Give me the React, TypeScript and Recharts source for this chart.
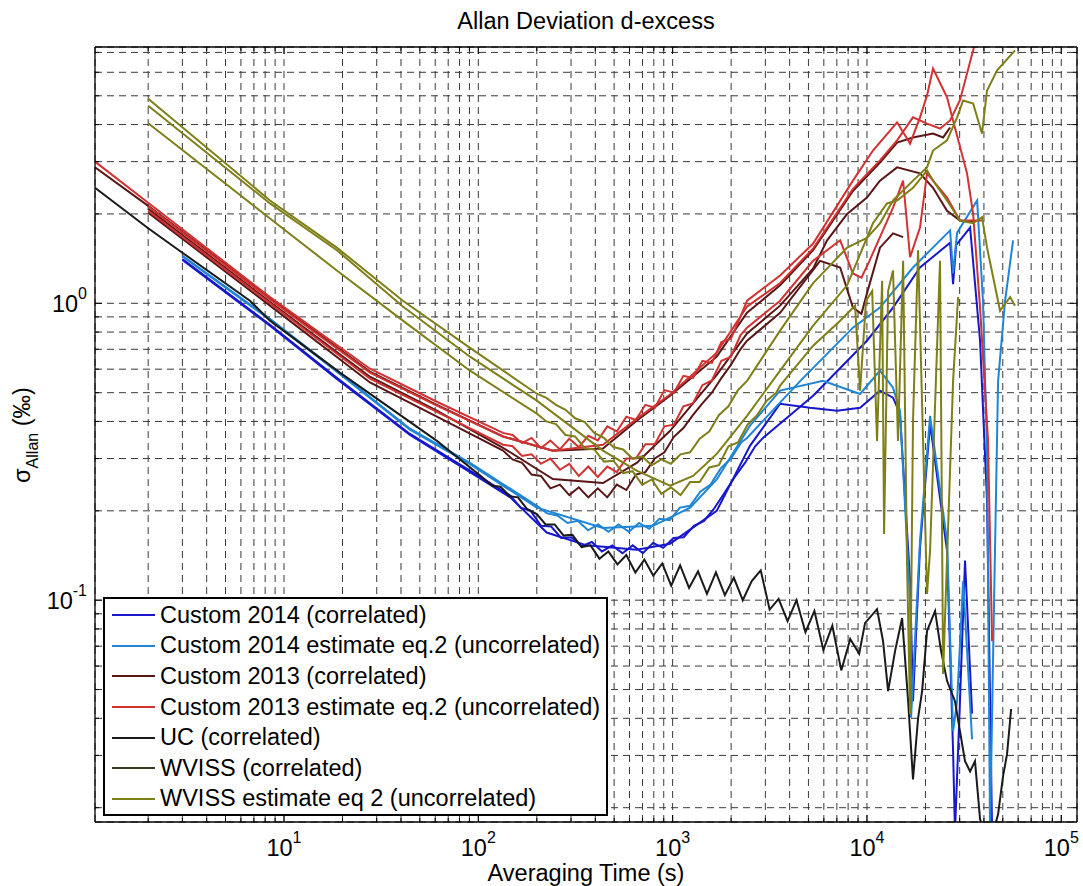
import React from "react";
import { LineChart, Line, XAxis, YAxis, CartesianGrid, Legend } from "recharts";

type Pt = [number, number];

// [averaging time (s), Allan deviation (permil)]
const C14_CORR_A: Pt[] = [
  [3, 1.41], [8.47, 0.847], [18.7, 0.561], [44.5, 0.363], [90.6, 0.273], [146, 0.225], [165, 0.205],
  [186, 0.2], [210, 0.178], [237, 0.177], [267, 0.162], [301, 0.163], [340, 0.152], [384, 0.157],
  [433, 0.146], [489, 0.153], [552, 0.144], [623, 0.153], [703, 0.144], [793, 0.156], [895, 0.15],
  [1010, 0.162], [1140, 0.163], [1287, 0.178], [1452, 0.185], [1639, 0.204], [1850, 0.23], [2088, 0.26],
  [2356, 0.29], [2660, 0.33], [2917, 0.352], [5285, 0.488], [10000, 0.748], [13620, 0.967], [18750, 1.32],
  [26790, 1.6], [27750, 1.16], [28770, 1.57], [33950, 1.8], [38200, 0.748], [41500, 0.216], [44050, 0.0166],
];
const C14_CORR_B: Pt[] = [
  [3, 1.4], [8.47, 0.84], [18.7, 0.556], [44.5, 0.36], [90.6, 0.27], [146, 0.222], [225, 0.169],
  [361, 0.153], [653, 0.148], [970, 0.155], [1687, 0.2], [2500, 0.331], [3573, 0.459], [5093, 0.445],
  [7015, 0.435], [9220, 0.445], [11670, 0.508], [13620, 0.481], [14790, 0.425], [16670, 0.116],
  [17260, 0.0457], [18750, 0.15], [21130, 0.393], [25830, 0.147], [27750, 0.031], [28380, 0.0166],
  [30110, 0.0457], [31970, 0.136], [34750, 0.0415],
];
const C14_EST_A: Pt[] = [
  [3, 1.445], [8.47, 0.887], [18.7, 0.593], [44.5, 0.378], [90.6, 0.29], [200, 0.208], [226, 0.196],
  [255, 0.193], [288, 0.182], [325, 0.185], [367, 0.172], [414, 0.18], [467, 0.17], [527, 0.18],
  [595, 0.17], [672, 0.182], [758, 0.174], [856, 0.188], [966, 0.186], [1090, 0.205], [1230, 0.208],
  [1388, 0.232], [1567, 0.245], [1769, 0.278], [1996, 0.3], [2253, 0.34], [2415, 0.352], [4530, 0.547],
  [8470, 0.828], [11670, 0.967], [17260, 1.32], [26790, 1.76], [27750, 1.26], [29110, 1.73], [36900, 2.22],
  [39540, 1.02], [41500, 0.318], [43000, 0.0166], [45100, 0.0993], [47300, 0.548], [51400, 1.02],
  [56500, 1.63],
];
const C14_EST_B: Pt[] = [
  [3, 1.44], [8.47, 0.88], [18.7, 0.588], [44.5, 0.375], [90.6, 0.287], [200, 0.205], [438, 0.175],
  [794, 0.178], [1230, 0.205], [1687, 0.255], [2500, 0.387], [3573, 0.508], [5943, 0.548], [9220, 0.495],
  [11670, 0.593], [13620, 0.52], [14790, 0.435], [16670, 0.0993], [16870, 0.0402], [18750, 0.158],
  [21130, 0.418], [25830, 0.158], [27750, 0.0362], [29110, 0.0457], [31260, 0.116], [34750, 0.034],
];

const C13_CORR_1: Pt[] = [
  [1.065, 2.87], [2, 2.13], [8.47, 1.04], [27.7, 0.589], [61.2, 0.455], [134, 0.356], [242, 0.319],
  [438, 0.324], [653, 0.402], [970, 0.488], [1687, 0.661], [2415, 0.929], [3573, 1.15], [5285, 1.51],
  [8470, 2.39], [11670, 2.98], [14290, 3.48], [17260, 3.62], [21880, 3.73], [24660, 3.62], [26790, 3.91],
];
const C13_CORR_2: Pt[] = [
  [2, 2.02], [8.47, 0.982], [27.7, 0.541], [61.2, 0.415], [134, 0.319], [150, 0.298], [168, 0.29],
  [188, 0.265], [210, 0.262], [235, 0.238], [263, 0.245], [294, 0.226], [329, 0.24], [368, 0.222],
  [412, 0.238], [461, 0.222], [516, 0.245], [578, 0.235], [647, 0.265], [724, 0.27], [810, 0.3],
  [907, 0.315], [1015, 0.355], [1136, 0.38], [1271, 0.42], [1423, 0.46], [1592, 0.5], [1782, 0.56],
  [1994, 0.62], [2232, 0.7], [2415, 0.748], [3573, 0.929], [5740, 1.39], [7280, 1.32], [8470, 0.967],
  [9370, 0.922], [10000, 1.08], [11670, 1.54], [13620, 1.72], [15350, 1.67],
];
const C13_CORR_3: Pt[] = [
  [2, 2.08], [8.47, 1.01], [27.7, 0.566], [61.2, 0.435], [134, 0.326], [242, 0.256], [438, 0.248],
  [653, 0.29], [970, 0.372], [1687, 0.574], [2415, 0.791], [3573, 0.982], [5285, 1.31], [6237, 1.63],
  [7906, 2.0], [10000, 2.27], [11670, 2.59], [14290, 2.87], [18750, 2.74], [21880, 2.45], [25830, 2.05],
  [30110, 1.9], [35980, 1.87],
];

const C13_EST_1: Pt[] = [
  [1.065, 3.0], [2, 2.18], [8.47, 1.05], [27.7, 0.602], [61.2, 0.466], [134, 0.366], [150, 0.36],
  [168, 0.338], [188, 0.352], [210, 0.325], [235, 0.345], [263, 0.322], [294, 0.35], [329, 0.328],
  [368, 0.358], [412, 0.345], [461, 0.385], [516, 0.37], [578, 0.415], [647, 0.405], [724, 0.455],
  [810, 0.445], [907, 0.51], [1015, 0.5], [1136, 0.57], [1271, 0.56], [1423, 0.64], [1592, 0.63],
  [1782, 0.74], [1994, 0.76], [2232, 0.9], [2415, 1.02], [3573, 1.24], [5285, 1.59], [8470, 2.59],
  [10740, 3.27], [14290, 4.07], [16670, 3.45], [18750, 4.23], [20380, 5.01], [21880, 6.18], [25830, 4.94],
  [27750, 4.13], [32740, 2.74], [35190, 2.0], [38200, 0.967], [42000, 0.344], [44050, 0.0728],
];
const C13_EST_2: Pt[] = [
  [2, 2.12], [8.47, 1.03], [27.7, 0.584], [61.2, 0.452], [134, 0.356], [242, 0.319], [438, 0.334],
  [653, 0.408], [970, 0.493], [1687, 0.682], [2415, 0.975], [3573, 1.17], [5285, 1.53], [8470, 2.43],
  [11670, 3.03], [14290, 3.54], [17260, 4.23], [20380, 4.03], [23770, 3.88], [26790, 4.13], [30110, 4.83],
  [35980, 7.51],
];
const C13_EST_3: Pt[] = [
  [2, 2.05], [8.47, 1.0], [27.7, 0.557], [61.2, 0.431], [134, 0.334], [150, 0.33], [168, 0.306],
  [188, 0.31], [210, 0.288], [235, 0.3], [263, 0.275], [294, 0.288], [329, 0.262], [368, 0.282],
  [412, 0.26], [461, 0.282], [516, 0.27], [578, 0.3], [647, 0.3], [724, 0.335], [810, 0.335], [907, 0.385],
  [1015, 0.39], [1136, 0.45], [1271, 0.46], [1423, 0.53], [1592, 0.55], [1782, 0.64], [1994, 0.66],
  [2232, 0.78], [2415, 0.828], [3573, 1.02], [5285, 1.39], [7280, 1.63], [8470, 1.26], [9370, 1.22],
  [10300, 1.39], [11670, 1.67], [13620, 2.1], [15350, 2.59], [16670, 1.43], [18750, 1.8], [20380, 2.74],
  [21880, 2.59], [25830, 2.27], [30110, 1.9], [39540, 1.9],
];

const UC_CORR: Pt[] = [
  [1.065, 2.45], [2, 1.79], [3, 1.48], [6.68, 1.02], [8.47, 0.874], [19.4, 0.584], [61.2, 0.344],
  [106, 0.258], [118, 0.243], [130, 0.241], [145, 0.224], [160, 0.222], [178, 0.203], [200, 0.195],
  [222, 0.18], [247, 0.18], [275, 0.165], [305, 0.166], [340, 0.151], [378, 0.153], [420, 0.138],
  [467, 0.146], [520, 0.132], [578, 0.142], [643, 0.124], [715, 0.137], [795, 0.121], [884, 0.133],
  [983, 0.112], [1093, 0.131], [1215, 0.11], [1351, 0.125], [1502, 0.105], [1670, 0.124], [1857, 0.104],
  [2065, 0.119], [2296, 0.1], [2553, 0.116], [2839, 0.126], [3157, 0.093], [3510, 0.101], [3903, 0.085],
  [4340, 0.1], [4826, 0.078], [5366, 0.092], [5967, 0.068], [6635, 0.082], [7378, 0.058], [8204, 0.074],
  [9122, 0.066], [9775, 0.0837], [11270, 0.0933], [12100, 0.0729], [12850, 0.0494], [13960, 0.0675],
  [15170, 0.0871], [16290, 0.0457], [17260, 0.0249], [18330, 0.0401], [19230, 0.0494], [20380, 0.0787],
  [22420, 0.092], [24060, 0.0675], [25830, 0.0535], [28380, 0.0457], [30110, 0.0362], [31970, 0.0287],
  [33950, 0.0265], [35980, 0.0287], [38200, 0.0183], [40550, 0.016], [44050, 0.016], [47300, 0.019],
  [50150, 0.0255], [52600, 0.0303], [55200, 0.043],
];

// no separate WVISS correlated curve is visible in the figure
const WVISS_CORR: Pt[] = [];

const WVISS_EST_1: Pt[] = [
  [2, 4.89], [8.47, 2.22], [18.7, 1.54], [40.9, 1.02], [90.6, 0.708], [200, 0.496], [224, 0.48],
  [251, 0.455], [281, 0.438], [315, 0.41], [353, 0.398], [395, 0.366], [443, 0.352], [496, 0.328],
  [556, 0.322], [622, 0.3], [697, 0.305], [781, 0.285], [875, 0.298], [980, 0.288], [1098, 0.31],
  [1230, 0.315], [1378, 0.35], [1543, 0.37], [1729, 0.42], [1937, 0.45], [2169, 0.51], [2415, 0.548],
  [3573, 0.809], [5285, 1.17], [7906, 1.54], [10000, 1.66], [11670, 1.86], [13620, 2.22], [17260, 2.59],
  [20380, 2.87], [21880, 3.27], [25830, 3.54], [29110, 4.23], [31260, 4.82], [35190, 4.71], [39080, 3.73],
  [41500, 5.21], [46780, 6.09], [57800, 7.11],
];
const WVISS_EST_2: Pt[] = [
  [2, 4.63], [8.47, 2.17], [18.7, 1.51], [40.9, 0.975], [90.6, 0.661], [200, 0.47], [438, 0.319],
  [653, 0.273], [970, 0.243], [1274, 0.262], [1687, 0.311], [2415, 0.418], [3573, 0.593], [5285, 0.841],
  [7906, 1.15], [10740, 1.86], [12680, 2.17], [14290, 2.22], [17260, 2.45], [20380, 2.8], [21880, 2.59],
  [25830, 2.22], [30110, 1.9], [35190, 1.86], [39080, 1.95], [41500, 1.54], [48420, 0.944], [54540, 1.05],
  [57800, 0.982],
];
const WVISS_EST_3: Pt[] = [
  [2, 4.04], [8.47, 1.93], [18.7, 1.29], [40.9, 0.874], [90.6, 0.593], [200, 0.425], [224, 0.4],
  [251, 0.392], [281, 0.36], [315, 0.356], [353, 0.325], [395, 0.322], [443, 0.293], [496, 0.295],
  [556, 0.268], [622, 0.272], [697, 0.245], [781, 0.255], [875, 0.228], [980, 0.24], [1098, 0.226],
  [1230, 0.25], [1378, 0.25], [1543, 0.28], [1729, 0.285], [1937, 0.33], [2169, 0.34], [2430, 0.39],
  [2722, 0.42], [3049, 0.47], [3415, 0.5], [3573, 0.528], [5285, 0.72], [7280, 0.874], [8690, 0.982],
  [9220, 0.508], [9890, 1.02], [10640, 1.1], [11270, 0.344], [11970, 1.19], [12250, 0.167], [12850, 1.1],
  [13620, 1.29], [14450, 0.344], [15350, 1.39], [16070, 0.136], [16670, 0.0414], [17260, 0.402],
  [18330, 1.51], [20380, 0.105], [21130, 0.147], [23770, 1.39], [24660, 0.0564], [27750, 0.547],
  [29450, 1.05],
];

const LEGEND_LABELS = [
  "Custom 2014 (correlated)",
  "Custom 2014 estimate eq.2 (uncorrelated)",
  "Custom 2013 (correlated)",
  "Custom 2013 estimate eq.2 (uncorrelated)",
  "UC (correlated)",
  "WVISS (correlated)",
  "WVISS estimate eq 2 (uncorrelated)",
];

const X_DECADES = [0, 1, 2, 3, 4, 5];
const Y_DECADES = [-2, -1, 0];
const MANTISSAS = [1, 2, 3, 4, 5, 6, 7, 8, 9];
const X_DOMAIN: [number, number] = [1.065, 120500];
const Y_DOMAIN: [number, number] = [0.0179, 7.3];

const W = 1083;
const H = 886;
// axes are 1px thick boxes, so plot area = 95..1077 x 47..822
const MARGIN = { top: 46, right: 5, bottom: 63, left: 94 };
const FONT = '"Liberation Sans", Arial, Helvetica, sans-serif';
const FS = 23.5;

const logTicks = (decades: number[], [lo, hi]: [number, number]) =>
  decades
    .flatMap((d) => MANTISSAS.map((m) => Number((m * Math.pow(10, d)).toPrecision(6))))
    .filter((v) => v >= lo && v <= hi);

const X_TICKS = logTicks(X_DECADES, X_DOMAIN);
const Y_TICKS = logTicks(Y_DECADES, Y_DOMAIN);

const isMajor = (v: number) => Math.abs(Math.log10(v) - Math.round(Math.log10(v))) < 1e-9;
const toRows = (pts: Pt[]) => pts.map(([t, s]) => ({ t, s }));

const Pow10 = ({ x, y, e, anchor }: { x: number; y: number; e: number; anchor: "middle" | "end" }) => (
  <text x={x} y={y} textAnchor={anchor} fontFamily={FONT} fontSize={FS} fill="#000">
    10<tspan dy={-13} fontSize={16}>{e}</tspan>
  </text>
);

const BottomTick = ({ x, y, payload }: any) => {
  const major = isMajor(payload.value);
  return (
    <g>
      <line x1={x} x2={x} y1={y} y2={y - (major ? 7 : 4)} stroke="#000" />
      {major && <Pow10 x={x} y={y + 34} e={Math.round(Math.log10(payload.value))} anchor="middle" />}
    </g>
  );
};
const TopTick = ({ x, y, payload }: any) => (
  <line x1={x} x2={x} y1={y} y2={y + (isMajor(payload.value) ? 7 : 4)} stroke="#000" />
);
const LeftTick = ({ x, y, payload }: any) => {
  const major = isMajor(payload.value);
  return (
    <g>
      <line x1={x} x2={x + (major ? 7 : 4)} y1={y} y2={y} stroke="#000" />
      {major && <Pow10 x={x - 8} y={y + 9} e={Math.round(Math.log10(payload.value))} anchor="end" />}
    </g>
  );
};
const RightTick = ({ x, y, payload }: any) => (
  <line x1={x} x2={x - (isMajor(payload.value) ? 7 : 4)} y1={y} y2={y} stroke="#000" />
);

const LegendBox = (props: any) => {
  const byLabel = new Map<string, any>();
  (props.payload || []).forEach((it: any) => {
    if (LEGEND_LABELS.includes(it.value) && !byLabel.has(it.value)) byLabel.set(it.value, it);
  });
  const items = LEGEND_LABELS.filter((l) => byLabel.has(l)).map((l) => byLabel.get(l));
  return (
    <div
      style={{
        boxSizing: "border-box",
        width: 505,
        height: 219,
        border: "2px solid #000",
        background: "#fff",
        paddingTop: 1,
        fontFamily: FONT,
        fontSize: FS,
        color: "#000",
      }}
    >
      {items.map((it: any) => (
        <div key={it.value} style={{ display: "flex", alignItems: "center", height: 30.6, whiteSpace: "nowrap" }}>
          <svg width={55} height={10} style={{ flex: "none" }}>
            <line x1={7} x2={50} y1={5} y2={5} stroke={it.color} strokeWidth={2} />
          </svg>
          <span>{it.value}</span>
        </div>
      ))}
    </div>
  );
};

const BLUE = "#1717cc";
const LIGHT_BLUE = "#1f85d6";
const DARK_RED = "#5a1616";
const RED = "#d23232";
const BLACK = "#1a1a1a";
const DARK_OLIVE = "#3b3b22";
const OLIVE = "#7f7f19";

const SERIES: { data: Pt[]; color: string; name?: string }[] = [
  { data: C14_CORR_A, color: BLUE, name: LEGEND_LABELS[0] },
  { data: C14_CORR_B, color: BLUE },
  { data: C14_EST_A, color: LIGHT_BLUE, name: LEGEND_LABELS[1] },
  { data: C14_EST_B, color: LIGHT_BLUE },
  { data: C13_CORR_1, color: DARK_RED, name: LEGEND_LABELS[2] },
  { data: C13_CORR_2, color: DARK_RED },
  { data: C13_CORR_3, color: DARK_RED },
  { data: C13_EST_1, color: RED, name: LEGEND_LABELS[3] },
  { data: C13_EST_2, color: RED },
  { data: C13_EST_3, color: RED },
  { data: UC_CORR, color: BLACK, name: LEGEND_LABELS[4] },
  { data: WVISS_CORR, color: DARK_OLIVE, name: LEGEND_LABELS[5] },
  { data: WVISS_EST_1, color: OLIVE, name: LEGEND_LABELS[6] },
  { data: WVISS_EST_2, color: OLIVE },
  { data: WVISS_EST_3, color: OLIVE },
];

export default function App() {
  const axisLine = { stroke: "#000", strokeWidth: 1.3 };
  const common = {
    type: "number" as const,
    scale: "log" as const,
    allowDataOverflow: true,
    interval: 0 as const,
    tickLine: false,
    tickSize: 0,
    tickMargin: 0,
    axisLine,
  };
  return (
    <div style={{ position: "absolute", left: 0, top: 0, width: W, height: H, background: "#fff" }}>
      <LineChart width={W} height={H} margin={MARGIN}>
        <CartesianGrid stroke="#3a3a3a" strokeDasharray="7 5" strokeWidth={1} />
        <XAxis {...common} dataKey="t" domain={X_DOMAIN} ticks={X_TICKS} tick={BottomTick} height={1} />
        <XAxis
          {...common}
          xAxisId="top"
          orientation="top"
          dataKey="t"
          domain={X_DOMAIN}
          ticks={X_TICKS}
          tick={TopTick}
          height={1}
        />
        <YAxis {...common} domain={Y_DOMAIN} ticks={Y_TICKS} tick={LeftTick} width={1} />
        <YAxis
          {...common}
          yAxisId="right"
          orientation="right"
          domain={Y_DOMAIN}
          ticks={Y_TICKS}
          tick={RightTick}
          width={1}
        />
        <Legend
          layout="vertical"
          align="center"
          verticalAlign="middle"
          wrapperStyle={{ left: 103, top: 597, width: 505, height: 219 }}
          content={LegendBox}
        />
        {SERIES.map((s, i) => (
          <Line
            key={i}
            data={toRows(s.data)}
            dataKey="s"
            name={s.name ?? `hidden-${i}`}
            legendType={s.name ? "line" : "none"}
            type="linear"
            stroke={s.color}
            strokeWidth={2}
            dot={false}
            activeDot={false}
            isAnimationActive={false}
          />
        ))}
      </LineChart>
      <svg
        width={W}
        height={H}
        style={{ position: "absolute", left: 0, top: 0, pointerEvents: "none" }}
        fontFamily={FONT}
        fontSize={FS}
        fill="#000"
      >
        <text x={586} y={29} textAnchor="middle">Allan Deviation d-excess</text>
        <text x={586} y={881} textAnchor="middle">Averaging Time (s)</text>
        <text transform="translate(30,435) rotate(-90)" textAnchor="middle">
          σ<tspan dy={8} fontSize={16}>Allan</tspan>
          <tspan dy={-8}> (‰)</tspan>
        </text>
      </svg>
    </div>
  );
}
